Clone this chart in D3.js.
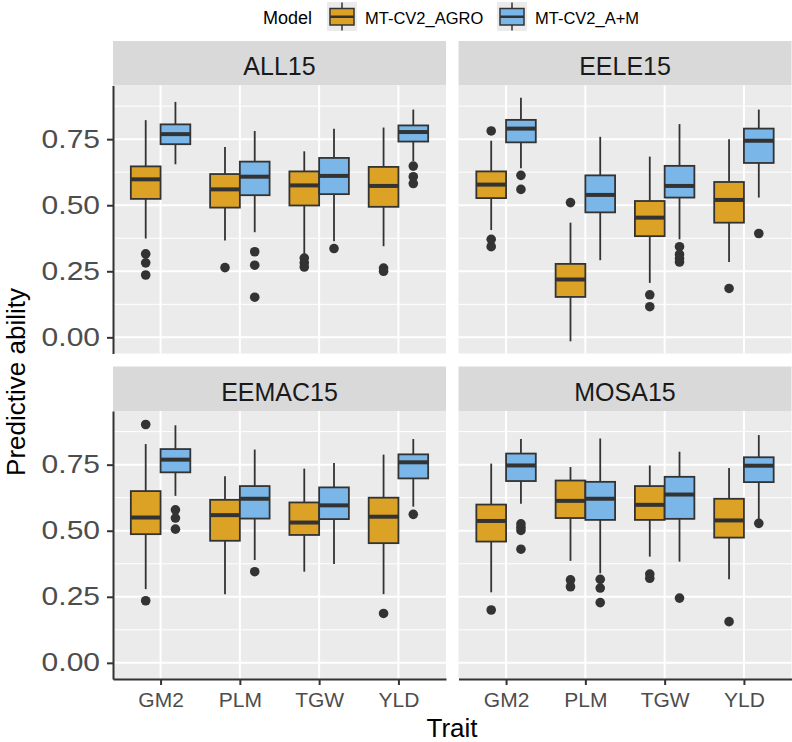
<!DOCTYPE html>
<html>
<head>
<meta charset="utf-8">
<script src="https://cdn.jsdelivr.net/npm/d3@7"></script>
<style>
  html, body { margin: 0; padding: 0; background: #fff; }
  text { font-family: "Liberation Sans", Arial, Helvetica, sans-serif; }
</style>
</head>
<body>
<svg id="chart" width="792" height="742"></svg>
<script>
// ---------------- DATA ----------------
const panels = ["ALL15", "EELE15", "EEMAC15", "MOSA15"];
const traits = ["GM2", "PLM", "TGW", "YLD"];
const models = ["MT-CV2_AGRO", "MT-CV2_A+M"];
const modelColors = ["#DBA226", "#7AB6E8"];
const yTickValues = [0, 0.25, 0.5, 0.75];
const yMinorValues = [0.125, 0.375, 0.625, 0.875];

// box stats per trait: [lower whisker, Q1, median, Q3, upper whisker]
const ALL15_AGRO = [[0.374, 0.524, 0.598, 0.647, 0.822], [0.367, 0.491, 0.560, 0.618, 0.720], [0.316, 0.499, 0.575, 0.628, 0.704], [0.345, 0.494, 0.573, 0.645, 0.794]];
const ALL15_AM   = [[0.655, 0.731, 0.769, 0.806, 0.891], [0.398, 0.538, 0.608, 0.665, 0.781], [0.364, 0.542, 0.611, 0.679, 0.789], [0.667, 0.741, 0.777, 0.802, 0.862]];
const EELE15_AGRO = [[0.406, 0.527, 0.578, 0.628, 0.744], [-0.015, 0.153, 0.219, 0.278, 0.434], [0.206, 0.383, 0.453, 0.516, 0.684], [0.285, 0.434, 0.520, 0.588, 0.750]];
const EELE15_AM   = [[0.640, 0.738, 0.790, 0.823, 0.907], [0.292, 0.473, 0.539, 0.613, 0.759], [0.371, 0.529, 0.573, 0.649, 0.807], [0.529, 0.660, 0.744, 0.790, 0.862]];
const EEMAC15_AGRO = [[0.279, 0.487, 0.550, 0.650, 0.828], [0.260, 0.462, 0.559, 0.617, 0.706], [0.345, 0.484, 0.531, 0.607, 0.735], [0.260, 0.453, 0.553, 0.625, 0.788]];
const EEMAC15_AM   = [[0.632, 0.721, 0.769, 0.809, 0.899], [0.389, 0.546, 0.621, 0.669, 0.807], [0.374, 0.544, 0.596, 0.664, 0.756], [0.591, 0.698, 0.759, 0.789, 0.847]];
const MOSA15_AGRO = [[0.267, 0.459, 0.537, 0.599, 0.754], [0.386, 0.548, 0.613, 0.690, 0.741], [0.402, 0.541, 0.598, 0.669, 0.747], [0.316, 0.474, 0.539, 0.621, 0.737]];
const MOSA15_AM   = [[0.602, 0.688, 0.747, 0.792, 0.847], [0.339, 0.541, 0.621, 0.685, 0.849], [0.383, 0.545, 0.637, 0.704, 0.799], [0.540, 0.684, 0.746, 0.778, 0.862]];

// outliers per trait
const ALL15_AGRO_OUT = [[0.316, 0.282, 0.236], [0.264], [0.300, 0.282, 0.266], [0.262, 0.250]];
const ALL15_AM_OUT   = [[], [0.324, 0.273, 0.152], [0.336], [0.648, 0.608, 0.582]];
const EELE15_AGRO_OUT = [[0.781, 0.371, 0.343], [0.510], [0.161, 0.116], [0.185]];
const EELE15_AM_OUT   = [[0.613, 0.560], [], [0.343, 0.314, 0.298, 0.285], [0.393]];
const EEMAC15_AGRO_OUT = [[0.902, 0.235], [], [], [0.187]];
const EEMAC15_AM_OUT   = [[0.579, 0.548, 0.506], [0.345], [], [0.562]];
const MOSA15_AGRO_OUT = [[0.200], [0.314, 0.288], [0.336, 0.320], [0.156]];
const MOSA15_AM_OUT   = [[0.526, 0.513, 0.501, 0.430], [0.316, 0.283, 0.228], [0.245], [0.528]];

const panelStats = [[ALL15_AGRO, ALL15_AM], [EELE15_AGRO, EELE15_AM], [EEMAC15_AGRO, EEMAC15_AM], [MOSA15_AGRO, MOSA15_AM]];
const panelOut = [[ALL15_AGRO_OUT, ALL15_AM_OUT], [EELE15_AGRO_OUT, EELE15_AM_OUT], [EEMAC15_AGRO_OUT, EEMAC15_AM_OUT], [MOSA15_AGRO_OUT, MOSA15_AM_OUT]];

// ---------------- LAYOUT ----------------
const svg = d3.select("#chart");
const colX = [113, 458.5];
const panelW = 333;
const stripTop = [41, 366.5];
const stripH = 44.5;
const panelH = 268;
const dark = "#333333";

// y domain: data range expanded 5% (ggplot default)
let allVals = [];
panelStats.forEach(p => p.forEach(m => m.forEach(s => allVals.push(...s))));
panelOut.forEach(p => p.forEach(m => m.forEach(o => allVals.push(...o))));
const yMin = d3.min(allVals), yMax = d3.max(allVals);
const padY = (yMax - yMin) * 0.05;
const y = d3.scaleLinear().domain([yMin - padY, yMax + padY]).range([panelH, 0]);
const x = d3.scalePoint().domain(traits).range([0, panelW]).padding(0.6);
const step = x.step();
const boxW = step * 0.75 / 2;

panels.forEach((name, pi) => {
  const col = pi % 2, row = Math.floor(pi / 2);
  const px = colX[col], sy = stripTop[row], py = sy + stripH;

  // strip
  svg.append("rect").attr("x", px).attr("y", sy).attr("width", panelW).attr("height", stripH).attr("fill", "#d9d9d9");
  svg.append("text").attr("x", px + panelW / 2).attr("y", sy + 34)
    .attr("text-anchor", "middle").attr("font-size", 25).attr("fill", "#1a1a1a").text(name);

  const g = svg.append("g").attr("transform", `translate(${px},${py})`);
  g.append("rect").attr("width", panelW).attr("height", panelH).attr("fill", "#ebebeb");

  // grid
  g.selectAll(".minor").data(yMinorValues).enter().append("line")
    .attr("x1", 0).attr("x2", panelW).attr("y1", d => y(d)).attr("y2", d => y(d))
    .attr("stroke", "#fff").attr("stroke-width", 1);
  g.selectAll(".major").data(yTickValues).enter().append("line")
    .attr("x1", 0).attr("x2", panelW).attr("y1", d => y(d)).attr("y2", d => y(d))
    .attr("stroke", "#fff").attr("stroke-width", 2);
  g.selectAll(".vmajor").data(traits).enter().append("line")
    .attr("x1", d => x(d)).attr("x2", d => x(d)).attr("y1", 0).attr("y2", panelH)
    .attr("stroke", "#fff").attr("stroke-width", 2);

  // boxes
  models.forEach((m, mi) => {
    const stats = panelStats[pi][mi];
    const outs = panelOut[pi][mi];
    traits.forEach((t, ti) => {
      const s = stats[ti];
      const cx = x(t) + (mi === 0 ? -boxW / 2 : boxW / 2);
      const bg = g.append("g");
      bg.append("line").attr("x1", cx).attr("x2", cx).attr("y1", y(s[0])).attr("y2", y(s[1]))
        .attr("stroke", dark).attr("stroke-width", 1.8);
      bg.append("line").attr("x1", cx).attr("x2", cx).attr("y1", y(s[3])).attr("y2", y(s[4]))
        .attr("stroke", dark).attr("stroke-width", 1.8);
      bg.append("rect").attr("x", cx - boxW / 2).attr("y", y(s[3]))
        .attr("width", boxW).attr("height", y(s[1]) - y(s[3]))
        .attr("fill", modelColors[mi]).attr("stroke", dark).attr("stroke-width", 1.8);
      bg.append("line").attr("x1", cx - boxW / 2).attr("x2", cx + boxW / 2)
        .attr("y1", y(s[2])).attr("y2", y(s[2]))
        .attr("stroke", dark).attr("stroke-width", 4);
      bg.selectAll("circle").data(outs[ti]).enter().append("circle")
        .attr("cx", cx).attr("cy", d => y(d)).attr("r", 4.8).attr("fill", dark);
    });
  });

  // axes
  if (col === 0) {
    const ax = g.append("g").call(d3.axisLeft(y).tickValues(yTickValues)
      .tickFormat(d3.format(".2f")).tickSize(6).tickSizeOuter(0).tickPadding(7));
    ax.select(".domain").attr("stroke", dark).attr("stroke-width", 2);
    ax.selectAll(".tick line").attr("stroke", dark).attr("stroke-width", 2);
    ax.selectAll(".tick text").attr("font-size", 25).attr("fill", "#4d4d4d")
      .attr("font-family", "'Liberation Sans', Arial, sans-serif")
      .attr("x", -13 / 1.2).attr("transform", "scale(1.2,1)");
  }
  if (row === 1) {
    const ax = g.append("g").attr("transform", `translate(0,${panelH})`)
      .call(d3.axisBottom(x).tickSize(6).tickSizeOuter(0).tickPadding(7));
    ax.select(".domain").attr("stroke", dark).attr("stroke-width", 2);
    ax.selectAll(".tick line").attr("stroke", dark).attr("stroke-width", 2);
    ax.selectAll(".tick text").attr("font-size", 21).attr("fill", "#4d4d4d")
      .attr("font-family", "'Liberation Sans', Arial, sans-serif");
  }
});

// axis titles
svg.append("text").attr("x", 452).attr("y", 737).attr("text-anchor", "middle")
  .attr("font-size", 26).attr("fill", "#000").text("Trait");
svg.append("text").attr("transform", "translate(25,382) rotate(-90)").attr("text-anchor", "middle")
  .attr("font-size", 26).attr("fill", "#000").text("Predictive ability");

// legend
const legend = svg.append("g");
legend.append("text").attr("x", 263).attr("y", 24).attr("font-size", 18).attr("fill", "#000").text("Model");
const keyX = [327, 497];
models.forEach((m, mi) => {
  const kx = keyX[mi];
  const k = legend.append("g").attr("transform", `translate(${kx},2)`);
  k.append("rect").attr("width", 30).attr("height", 29).attr("fill", "#ebebeb");
  k.append("line").attr("x1", 15).attr("x2", 15).attr("y1", 0.5).attr("y2", 28.5).attr("stroke", dark).attr("stroke-width", 1.5);
  k.append("rect").attr("x", 3).attr("y", 6.5).attr("width", 24).attr("height", 16.5)
    .attr("fill", modelColors[mi]).attr("stroke", dark).attr("stroke-width", 1.5);
  k.append("line").attr("x1", 3).attr("x2", 27).attr("y1", 14.75).attr("y2", 14.75).attr("stroke", dark).attr("stroke-width", 2.5);
  legend.append("text").attr("x", kx + 38).attr("y", 23.5).attr("font-size", 16.5).attr("fill", "#000").text(m);
});
</script>
</body>
</html>
